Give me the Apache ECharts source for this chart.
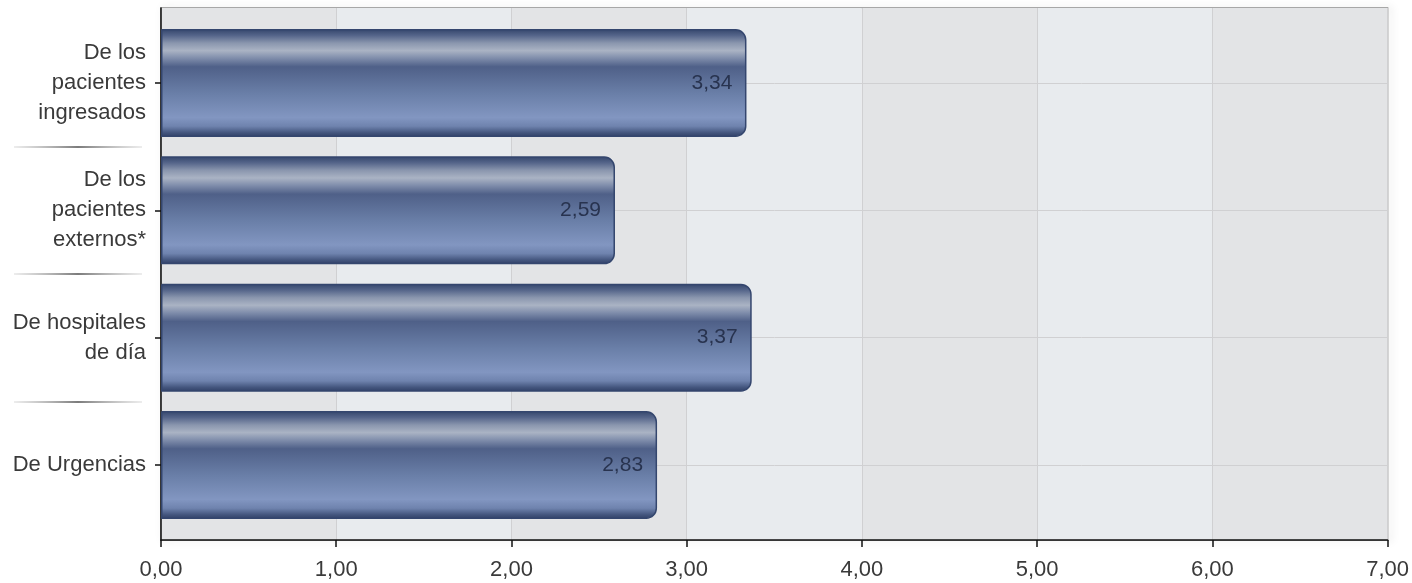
<!DOCTYPE html>
<html>
<head>
<meta charset="utf-8">
<script src="https://cdn.jsdelivr.net/npm/echarts@6/dist/echarts.min.js"></script>
<style>
html,body{margin:0;padding:0;background:#fff;}
#chart{width:1412px;height:583px;}
</style>
</head>
<body>
<div id="chart"></div>
<script>
const categories = ['De los\npacientes\ningresados', 'De los\npacientes\nexternos*', 'De hospitales\nde día', 'De Urgencias'];
const values = [3.34, 2.59, 3.37, 2.83];
const xTicks = { min: 0, max: 7, interval: 1 };
const centerTicks = [0.5, 1.5, 2.5, 3.5];
const separatorTicks = [1, 2, 3];

const fmt = v => Number(v).toFixed(2).replace('.', ',');
const FONT = '"Liberation Sans", Arial, sans-serif';

const chart = echarts.init(document.getElementById('chart'), null, { renderer: 'canvas' });

const barGradient = new echarts.graphic.LinearGradient(0, 0, 0, 1, [
  { offset: 0, color: '#33456b' },
  { offset: 0.06, color: '#55658a' },
  { offset: 0.13, color: '#8a96ae' },
  { offset: 0.20, color: '#aab3c4' },
  { offset: 0.27, color: '#7f8dab' },
  { offset: 0.35, color: '#4f6088' },
  { offset: 0.60, color: '#6a7fa8' },
  { offset: 0.82, color: '#8296c1' },
  { offset: 0.90, color: '#6f83ae' },
  { offset: 0.96, color: '#44567e' },
  { offset: 1, color: '#2f3f66' }
]);

const sepGradient = new echarts.graphic.LinearGradient(0, 0, 1, 0, [
  { offset: 0, color: 'rgba(120,120,120,0.15)' },
  { offset: 0.5, color: 'rgba(60,60,60,0.9)' },
  { offset: 1, color: 'rgba(120,120,120,0.15)' }
]);

const option = {
  backgroundColor: '#ffffff',
  animation: false,
  grid: [
    { left: 161, right: 24, top: 8, bottom: 43, show: true, borderColor: '#8c8c8c', borderWidth: 1.5,
      shadowColor: 'rgba(0,0,0,0.18)', shadowBlur: 8, shadowOffsetX: 3, shadowOffsetY: 0 },
    { left: 161, right: 24, top: 19.35, bottom: 54.35 }
  ],
  xAxis: [
    {
      gridIndex: 0, type: 'value', min: xTicks.min, max: xTicks.max, interval: xTicks.interval,
      axisLine: { show: true, onZero: false, lineStyle: { color: '#111', width: 1.5 } },
      axisTick: { show: true, length: 7, lineStyle: { color: '#111', width: 1.5 } },
      axisLabel: { formatter: fmt, fontSize: 22, color: '#3a3a3a', fontFamily: FONT, margin: 19 },
      splitLine: { show: true, lineStyle: { color: '#d0d0d2', width: 1 } },
      splitArea: { show: true, areaStyle: { color: ['#e3e4e6', '#e8ebee'] } }
    },
    {
      gridIndex: 1, type: 'value', min: xTicks.min, max: xTicks.max, show: false,
      axisLine: { show: false, onZero: false }
    }
  ],
  yAxis: [
    {
      gridIndex: 0, type: 'value', inverse: true, min: -0.09, max: 4.09,
      axisLine: { show: true, onZero: false, lineStyle: { color: '#111', width: 1.5 } },
      axisTick: { show: true, customValues: centerTicks, length: 6, lineStyle: { color: '#111', width: 1.5 } },
      axisLabel: { show: false },
      splitLine: { show: false }
    },
    {
      gridIndex: 0, type: 'value', inverse: true, min: -0.09, max: 4.09, position: 'left', offset: 19,
      axisLine: { show: false, onZero: false },
      axisTick: { show: true, customValues: separatorTicks, length: 128, lineStyle: { color: sepGradient, width: 1.5 } },
      axisLabel: { show: false },
      splitLine: { show: false }
    },
    {
      gridIndex: 1, type: 'category', inverse: true, data: categories,
      axisLine: { show: false }, axisTick: { show: false },
      axisLabel: { fontSize: 22, lineHeight: 30, color: '#3a3a3a', fontFamily: FONT, margin: 15, align: 'right' },
      splitLine: { show: false }
    }
  ],
  series: [
    {
      type: 'bar', xAxisIndex: 1, yAxisIndex: 2, data: values, barWidth: 108, z: 3,
      itemStyle: { color: barGradient, borderColor: '#34466e', borderWidth: 1.5, borderRadius: [0, 10, 10, 0] },
      label: { show: true, position: 'insideRight', distance: 14, formatter: p => fmt(p.value),
               fontSize: 21, color: '#28334f', fontFamily: FONT },
      markLine: {
        silent: true, symbol: 'none', z: 1, animation: false,
        label: { show: false },
        lineStyle: { color: '#d0d0d2', width: 1, type: 'solid' },
        data: categories.map(c => ({ yAxis: c }))
      }
    }
  ]
};
chart.setOption(option);
</script>
</body>
</html>
